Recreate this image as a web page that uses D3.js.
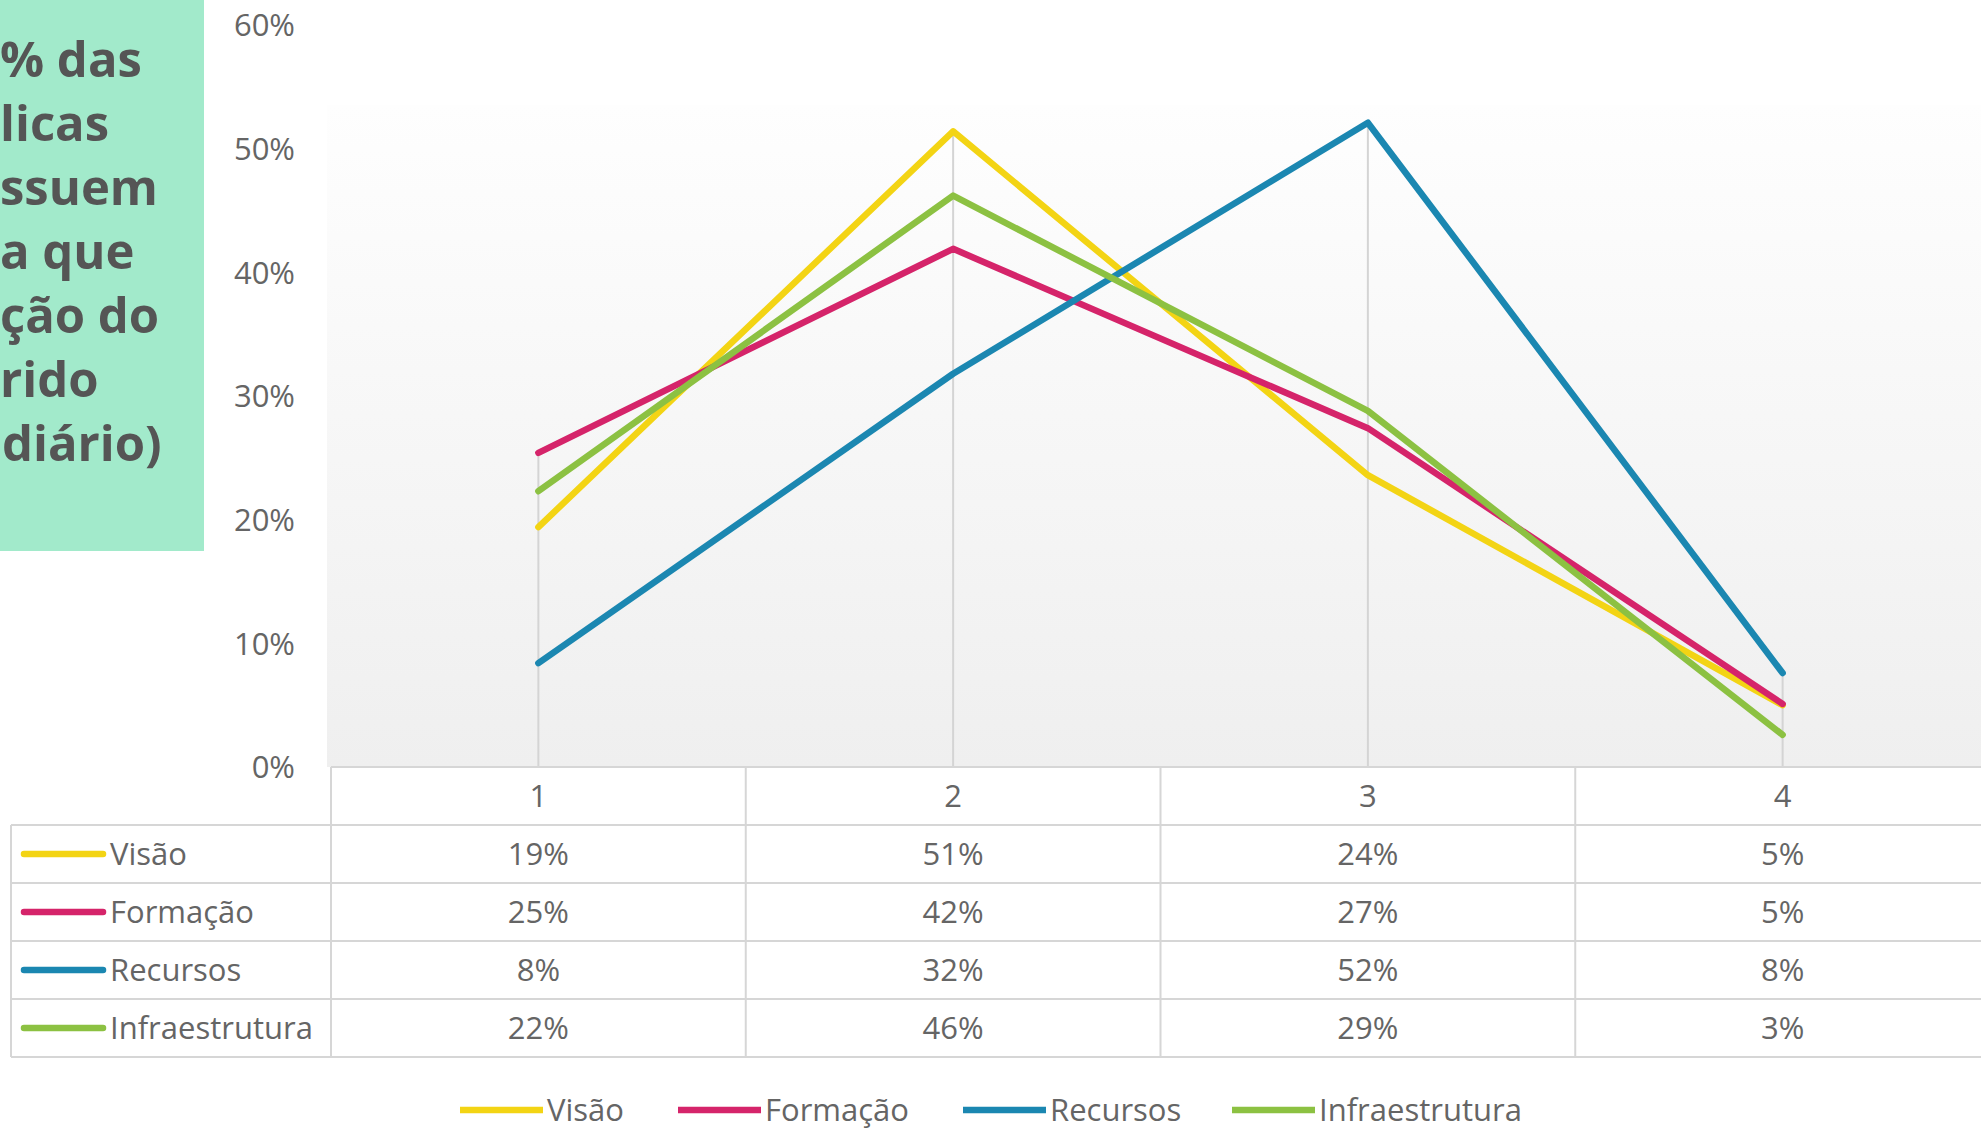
<!DOCTYPE html>
<html>
<head>
<meta charset="utf-8">
<script src="https://cdn.jsdelivr.net/npm/d3@7"></script>
<style>
  body { margin: 0; background: #fff; }
  svg { display: block; font-family: "Open Sans", sans-serif; }
</style>
</head>
<body>
<svg width="1981" height="1128"></svg>
<script>
// dados do gráfico
const categories = ["1", "2", "3", "4"];
const seriesNames = ["Visão", "Formação", "Recursos", "Infraestrutura"];
const visao = [0.194, 0.514, 0.236, 0.050];
const formacao = [0.254, 0.419, 0.274, 0.051];
const recursos = [0.084, 0.318, 0.521, 0.076];
const infraestrutura = [0.223, 0.462, 0.288, 0.026];
const yTicks = [0, 0.1, 0.2, 0.3, 0.4, 0.5, 0.6];
const titleLines = ["% das", "licas", "ssuem", "a que", "ção do", "rido", "ediário)"];

const colors = ["#f3d414", "#d5246a", "#1b87b1", "#8cc142"];
const series = [visao, formacao, recursos, infraestrutura];

const svg = d3.select("svg");
const width = +svg.attr("width");

const x = d3.scaleBand().domain(categories).range([331, 1990]);
const y = d3.scaleLinear().domain([0, 0.6]).range([767, 25]);
const fmt = d3.format(".0%");
const fontSize = 31;
const textColor = "#656565";

// fundo em gradiente da área do gráfico
const defs = svg.append("defs");
const grad = defs.append("linearGradient")
    .attr("id", "bg").attr("x1", 0).attr("y1", 0).attr("x2", 0).attr("y2", 1);
grad.append("stop").attr("offset", "0%").attr("stop-color", "#fefefe");
grad.append("stop").attr("offset", "100%").attr("stop-color", "#efefef");

svg.append("rect")
    .attr("x", 327).attr("y", 105)
    .attr("width", width - 327).attr("height", y(0) - 105)
    .attr("fill", "url(#bg)");

// caixa verde do título (cortada à esquerda)
svg.append("rect")
    .attr("x", 0).attr("y", 0).attr("width", 204).attr("height", 551)
    .attr("fill", "#a2eacb");

svg.append("g").selectAll("text")
    .data(titleLines)
    .join("text")
    .attr("x", (d, i) => i === 6 ? -27 : 0)
    .attr("y", (d, i) => 77 + i * 64)
    .attr("font-size", 49)
    .attr("font-weight", "bold")
    .attr("fill", "#555")
    .text(d => d);

// eixo Y
const yAxis = d3.axisLeft(y).tickValues(yTicks).tickFormat(fmt).tickSize(0).tickPadding(0);
svg.append("g")
    .attr("transform", "translate(295,0)")
    .call(yAxis)
    .call(g => g.select(".domain").remove())
    .call(g => g.selectAll("text")
        .attr("font-family", "Open Sans")
        .attr("font-size", fontSize)
        .attr("fill", textColor)
        .attr("dy", "0.35em"));

// linhas de queda (do máximo até o eixo)
svg.append("g").selectAll("line")
    .data(categories)
    .join("line")
    .attr("x1", d => x(d) + x.bandwidth() / 2)
    .attr("x2", d => x(d) + x.bandwidth() / 2)
    .attr("y1", (d, i) => y(d3.max(series, s => s[i])))
    .attr("y2", y(0))
    .attr("stroke", "#d4d4d4")
    .attr("stroke-width", 2);

// linhas das séries
const line = d3.line()
    .x((d, i) => x(categories[i]) + x.bandwidth() / 2)
    .y(d => y(d));

svg.append("g").selectAll("path")
    .data(series)
    .join("path")
    .attr("d", d => line(d))
    .attr("fill", "none")
    .attr("stroke", (d, i) => colors[i])
    .attr("stroke-width", 6.5)
    .attr("stroke-linejoin", "round")
    .attr("stroke-linecap", "round");

// tabela de dados
const headerTop = 767;
const rowH = 58;
const tableLeft = 11;
const grid = svg.append("g").attr("stroke", "#d6d6d6").attr("stroke-width", 2);

grid.append("line").attr("x1", 331).attr("x2", width).attr("y1", headerTop).attr("y2", headerTop);
for (let r = 1; r <= seriesNames.length + 1; r++) {
    grid.append("line")
        .attr("x1", tableLeft).attr("x2", width)
        .attr("y1", headerTop + r * rowH).attr("y2", headerTop + r * rowH);
}
grid.append("line")
    .attr("x1", tableLeft).attr("x2", tableLeft)
    .attr("y1", headerTop + rowH).attr("y2", headerTop + 5 * rowH);
categories.forEach(c => {
    grid.append("line")
        .attr("x1", x(c)).attr("x2", x(c))
        .attr("y1", headerTop).attr("y2", headerTop + 5 * rowH);
});

// cabeçalho das categorias
svg.append("g").selectAll("text")
    .data(categories)
    .join("text")
    .attr("x", d => x(d) + x.bandwidth() / 2)
    .attr("y", headerTop + rowH / 2)
    .attr("dy", "0.35em")
    .attr("text-anchor", "middle")
    .attr("font-size", fontSize)
    .attr("fill", textColor)
    .text(d => d);

// linhas da tabela
const rows = svg.append("g").selectAll("g")
    .data(seriesNames)
    .join("g")
    .attr("transform", (d, i) => `translate(0,${headerTop + (i + 1) * rowH})`);

rows.append("line")
    .attr("x1", 24).attr("x2", 103)
    .attr("y1", rowH / 2).attr("y2", rowH / 2)
    .attr("stroke", (d, i) => colors[i])
    .attr("stroke-width", 6.5)
    .attr("stroke-linecap", "round");

rows.append("text")
    .attr("x", 110)
    .attr("y", rowH / 2)
    .attr("dy", "0.35em")
    .attr("font-size", fontSize)
    .attr("fill", textColor)
    .text(d => d);

rows.each(function (name, i) {
    d3.select(this).selectAll("text.val")
        .data(series[i])
        .join("text")
        .attr("class", "val")
        .attr("x", (d, j) => x(categories[j]) + x.bandwidth() / 2)
        .attr("y", rowH / 2)
        .attr("dy", "0.35em")
        .attr("text-anchor", "middle")
        .attr("font-size", fontSize)
        .attr("fill", textColor)
        .text(d => fmt(d));
});

// legenda inferior
const legendX = [460, 678, 963, 1232];
const legend = svg.append("g").selectAll("g")
    .data(seriesNames)
    .join("g")
    .attr("transform", (d, i) => `translate(${legendX[i]},1110)`);

legend.append("line")
    .attr("x1", 0).attr("x2", 83)
    .attr("stroke", (d, i) => colors[i])
    .attr("stroke-width", 6.5);

legend.append("text")
    .attr("x", 87)
    .attr("dy", "0.35em")
    .attr("font-size", fontSize)
    .attr("fill", textColor)
    .text(d => d);
</script>
</body>
</html>
